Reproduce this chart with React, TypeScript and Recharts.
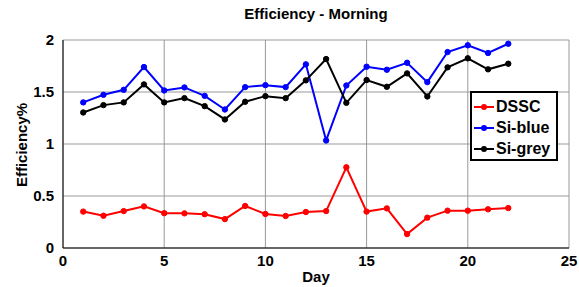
import { LineChart, Line, XAxis, YAxis, CartesianGrid } from 'recharts'

const days = [1, 2, 3, 4, 5, 6, 7, 8, 9, 10, 11, 12, 13, 14, 15, 16, 17, 18, 19, 20, 21, 22]
const dssc = [0.35, 0.31, 0.355, 0.4, 0.335, 0.333, 0.325, 0.278, 0.404, 0.327, 0.308, 0.346, 0.355, 0.776, 0.35, 0.381, 0.134, 0.292, 0.359, 0.359, 0.372, 0.384]
const siBlue = [1.4, 1.473, 1.521, 1.74, 1.515, 1.544, 1.463, 1.332, 1.547, 1.566, 1.547, 1.766, 1.034, 1.563, 1.743, 1.714, 1.781, 1.595, 1.884, 1.949, 1.875, 1.964]
const siGrey = [1.303, 1.374, 1.4, 1.573, 1.4, 1.441, 1.364, 1.236, 1.406, 1.46, 1.441, 1.612, 1.817, 1.396, 1.615, 1.55, 1.679, 1.457, 1.737, 1.824, 1.718, 1.772]
const xTicks = [0, 5, 10, 15, 20, 25]
const yTicks = [0, 0.5, 1, 1.5, 2]

const series = [
  { key: 'dssc', name: 'DSSC', color: '#ff0000' },
  { key: 'siBlue', name: 'Si-blue', color: '#0000ff' },
  { key: 'siGrey', name: 'Si-grey', color: '#000000' },
]

const data = days.map((day, i) => ({ day, dssc: dssc[i], siBlue: siBlue[i], siGrey: siGrey[i] }))

const font = '"Liberation Sans", Arial, sans-serif'
const tickStyle = { fontSize: 15, fontWeight: 'bold', fill: '#000', fontFamily: font }

function LegendBox() {
  return (
    <div
      style={{
        position: 'absolute',
        left: 470,
        top: 91,
        boxSizing: 'border-box',
        width: 88,
        height: 70,
        border: '2px solid #000',
        background: '#fff',
        padding: '3px 0 0 0',
        fontFamily: font,
        fontWeight: 'bold',
        fontSize: 16,
        lineHeight: '21px',
      }}
    >
      {series.map((s) => (
        <div key={s.key} style={{ display: 'flex', alignItems: 'center' }}>
          <svg width={24} height={10}>
            <line x1={2} y1={5} x2={22} y2={5} stroke={s.color} strokeWidth={2} />
            <circle cx={12} cy={5} r={3} fill={s.color} />
          </svg>
          <span style={{ color: '#000' }}>{s.name}</span>
        </div>
      ))}
    </div>
  )
}

const labelStyle = {
  position: 'absolute' as const,
  fontFamily: font,
  fontWeight: 'bold',
  fontSize: 15,
  whiteSpace: 'nowrap' as const,
}

export default function App() {
  return (
    <div style={{ position: 'absolute', left: 0, top: 0, width: 579, height: 287, background: '#fff' }}>
      <LineChart width={579} height={287} data={data} margin={{ top: 40, right: 10, left: 0, bottom: 0 }}>
        <CartesianGrid stroke="#999999" />
        <XAxis
          dataKey="day"
          type="number"
          domain={[0, 25]}
          ticks={xTicks}
          height={39}
          tickLine={false}
          axisLine={{ stroke: '#000' }}
          tick={tickStyle}
          tickMargin={1}
          interval={0}
        />
        <YAxis
          type="number"
          domain={[0, 2]}
          ticks={yTicks}
          width={63}
          tickLine={false}
          axisLine={{ stroke: '#000' }}
          tick={tickStyle}
          tickMargin={3}
          interval={0}
        />
        {series.map((s) => (
          <Line
            key={s.key}
            dataKey={s.key}
            name={s.name}
            stroke={s.color}
            strokeWidth={2}
            dot={{ r: 2.7, fill: s.color, stroke: s.color, strokeWidth: 1 }}
            type="linear"
            isAnimationActive={false}
          />
        ))}
      </LineChart>
      <div style={{ ...labelStyle, left: 0, width: 632, top: 5, textAlign: 'center' }}>Efficiency - Morning</div>
      <div style={{ ...labelStyle, left: 0, width: 632, top: 268, textAlign: 'center' }}>Day</div>
      <div style={{ ...labelStyle, left: 21, top: 145, transform: 'translate(-50%, -50%) rotate(-90deg)' }}>
        Efficiency%
      </div>
      <LegendBox />
    </div>
  )
}
